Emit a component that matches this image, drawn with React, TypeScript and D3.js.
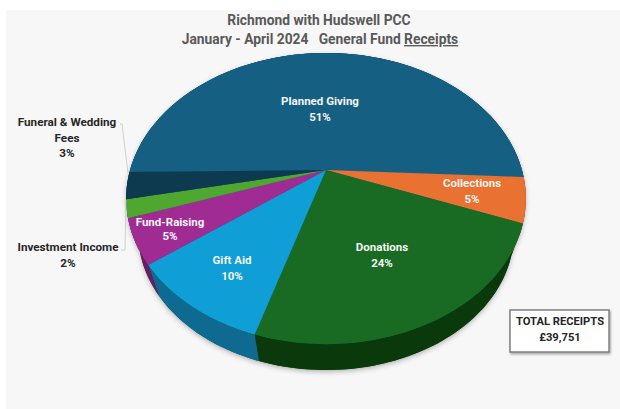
import React from "react";
import * as d3 from "d3";

const categories = ["Planned Giving", "Collections", "Donations", "Gift Aid", "Fund-Raising", "Investment Income", "Funeral & Wedding Fees"];
const shares = [51, 5, 24, 10, 5, 2, 3];
const topColors = ["#156082", "#E97132", "#196B24", "#0F9ED5", "#A02B93", "#4EA72E", "#0D3A4E"];
const sideColors = ["#0D3A4E", "#8C441E", "#0A3A0C", "#0F6A92", "#6A1C62", "#2F641C", "#082532"];
const titleLines = ["Richmond with Hudswell PCC", "January - April 2024   General Fund "];
const totalLabel = ["TOTAL RECEIPTS", "£39,751"];

// Perspective model of the tilted disc: unit circle in plan view onto the page.
const CX = 326;
const CY = 170;
const RX = 196;
const RY = 140;
const TILT = 0.196;
const BASE_SCALE = 0.94;
const BASE_DROP = 36.4;
const START = (-90.8 * Math.PI) / 180;

type Pt = [number, number];
const project = (a: number): Pt => {
  const u = Math.sin(a);
  const v = Math.cos(a);
  const w = 1 + TILT * v;
  return [CX + (RX * u) / w, CY - (RY * v) / w];
};
const projectBase = (a: number): Pt => {
  const [x, y] = project(a);
  return [CX + (x - CX) * BASE_SCALE, CY + (y - CY) * BASE_SCALE + BASE_DROP];
};
const rim = (a0: number, a1: number, f: (a: number) => Pt): Pt[] =>
  d3.range(0, 61).map((i) => f(a0 + ((a1 - a0) * i) / 60));

const line = d3.line<Pt>().x((d) => d[0]).y((d) => d[1]);
const closed = (pts: Pt[]) => line(pts) + "Z";

const arcs = d3
  .pie<number>()
  .sort(null)
  .startAngle(START)
  .endAngle(START + 2 * Math.PI)(shares);

// Inside labels: centre of the name line; the percentage sits on the line below.
const insideLabels: Record<string, { x: number; y: number; gap: number }> = {
  "Planned Giving": { x: 320, y: 105, gap: 16 },
  Collections: { x: 472, y: 187, gap: 16 },
  Donations: { x: 382, y: 251, gap: 16 },
  "Gift Aid": { x: 232, y: 264, gap: 16 },
  "Fund-Raising": { x: 170, y: 226, gap: 14 },
};
const FONT = "Roboto, sans-serif";

export default function App() {
  return (
    <svg
      width={620}
      height={409}
      style={{ position: "absolute", left: 0, top: 0, background: "#fff" }}
      fontFamily={FONT}
    >
      <defs>
        <filter id="soft" x="-10%" y="-10%" width="120%" height="120%">
          <feDropShadow dx="0" dy="2" stdDeviation="2.5" floodColor="#000" floodOpacity="0.28" />
        </filter>
        <filter id="boxShadow" x="-10%" y="-10%" width="125%" height="130%">
          <feDropShadow dx="1" dy="1.5" stdDeviation="1" floodColor="#000" floodOpacity="0.35" />
        </filter>
      </defs>
      <rect x={6} y={10} width={614} height={399} fill="#F7F7F7" />

      <g fill="#595959" fontWeight={700} fontSize={13.8} textAnchor="middle">
        <text x={319} y={25}>{titleLines[0]}</text>
        <text x={320} y={44} style={{ whiteSpace: "pre" }}>
          {titleLines[1]}
          <tspan textDecoration="underline">Receipts</tspan>
        </text>
      </g>

      {/* Wall of the disc, then the slices on top of it */}
      <g filter="url(#soft)">
        <path d={closed(rim(0, 2 * Math.PI, projectBase))} fill="#0A3A0C" />
        <path d={closed(rim(0, 2 * Math.PI, project))} fill={topColors[0]} />
      </g>
      {arcs.map((d, i) => (
        <path
          key={"side" + i}
          d={closed([...rim(d.startAngle, d.endAngle, project), ...rim(d.startAngle, d.endAngle, projectBase).reverse()])}
          fill={sideColors[i]}
        />
      ))}
      {arcs.map((d, i) => (
        <path
          key={"top" + i}
          d={closed([[CX, CY], ...rim(d.startAngle, d.endAngle, project)])}
          fill={topColors[i]}
        />
      ))}

      {/* Leader lines to the two small slices */}
      <g fill="none" stroke="#C4C4C4" strokeWidth={0.8}>
        <path d="M120,124 L122,124 L128,173" />
        <path d="M121,250 L125,250 L126,200" />
      </g>

      <g fontWeight={700} fontSize={11.5} textAnchor="middle" fill="#F4F4F4">
        {categories.slice(0, 5).map((c, i) => {
          const p = insideLabels[c];
          return (
            <g key={c}>
              <text x={p.x} y={p.y}>{c}</text>
              <text x={p.x} y={p.y + p.gap}>{shares[i]}%</text>
            </g>
          );
        })}
      </g>

      <g fontWeight={700} fontSize={11.7} textAnchor="middle" fill="#262626">
        <text x={67} y={126}>Funeral &amp; Wedding</text>
        <text x={67} y={142}>Fees</text>
        <text x={67} y={157}>{shares[6]}%</text>
        <text x={68} y={251}>Investment Income</text>
        <text x={68} y={267}>{shares[5]}%</text>
      </g>

      <rect x={510} y={310} width={99} height={42} fill="#fff" stroke="#808080" strokeWidth={1.5} filter="url(#boxShadow)" />
      <g fontWeight={700} fontSize={11.2} textAnchor="middle" fill="#262626">
        <text x={560} y={325}>{totalLabel[0]}</text>
        <text x={560} y={341}>{totalLabel[1]}</text>
      </g>
    </svg>
  );
}
